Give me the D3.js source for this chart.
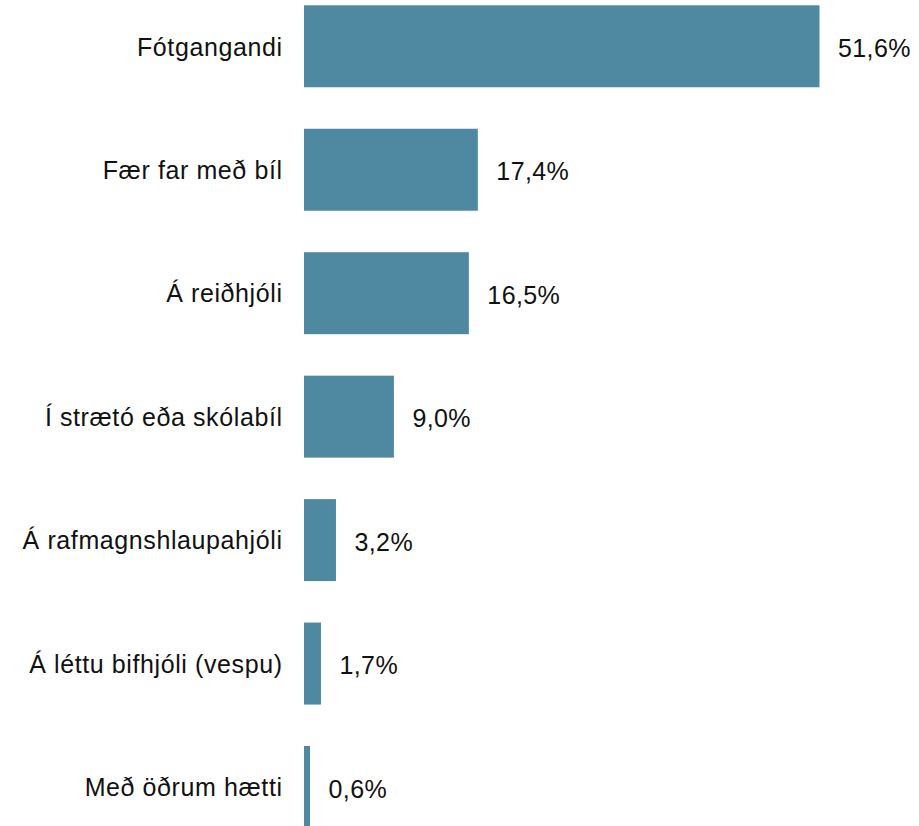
<!DOCTYPE html>
<html>
<head>
<meta charset="utf-8">
<script src="https://cdn.jsdelivr.net/npm/d3@7"></script>
<style>
  body { margin: 0; background: #fff; }
  text { font-family: "Liberation Sans", Arial, sans-serif; }
</style>
</head>
<body>
<div id="chart"></div>
<script>
// categories, top to bottom
var categories = [
  "Fótgangandi",
  "Fær far með bíl",
  "Á reiðhjóli",
  "Í strætó eða skólabíl",
  "Á rafmagnshlaupahjóli",
  "Á léttu bifhjóli (vespu)",
  "Með öðrum hætti"
];
var values = [51.6, 17.4, 16.5, 9.0, 3.2, 1.7, 0.6];
var valueLabels = ["51,6%", "17,4%", "16,5%", "9,0%", "3,2%", "1,7%", "0,6%"];

var width = 919;
var height = 826;
var barColor = "#4f88a1";

var dataset = categories.map(function (c, i) {
  return { label: c, value: values[i], text: valueLabels[i] };
});

var svg = d3.select("#chart").append("svg")
  .attr("width", width)
  .attr("height", height);

var x = d3.scaleLinear()
  .domain([0, 51.6])
  .range([304, 819.5]);

var y = d3.scaleBand()
  .domain(categories)
  .range([5.3, 828])
  .paddingInner(0.336)
  .paddingOuter(0);

svg.selectAll("rect.bar")
  .data(dataset)
  .enter()
  .append("rect")
  .attr("class", "bar")
  .attr("x", x(0))
  .attr("y", function (d) { return y(d.label); })
  .attr("width", function (d) { return x(d.value) - x(0); })
  .attr("height", y.bandwidth())
  .attr("fill", barColor);

// category labels
svg.selectAll("text.cat")
  .data(dataset)
  .enter()
  .append("text")
  .attr("class", "cat")
  .attr("x", x(0) - 21.4)
  .attr("y", function (d) { return y(d.label) + y.bandwidth() / 2; })
  .attr("dy", "0.37em")
  .attr("text-anchor", "end")
  .style("font-size", "25px")
  .style("letter-spacing", "0.6px")
  .style("fill", "#111")
  .text(function (d) { return d.label; });

// value labels
svg.selectAll("text.val")
  .data(dataset)
  .enter()
  .append("text")
  .attr("class", "val")
  .attr("x", function (d) { return x(d.value) + 18.5; })
  .attr("y", function (d) { return y(d.label) + y.bandwidth() / 2; })
  .attr("dy", "0.42em")
  .style("font-size", "25px")
  .style("letter-spacing", "0.4px")
  .style("fill", "#111")
  .text(function (d) { return d.text; });
</script>
</body>
</html>
